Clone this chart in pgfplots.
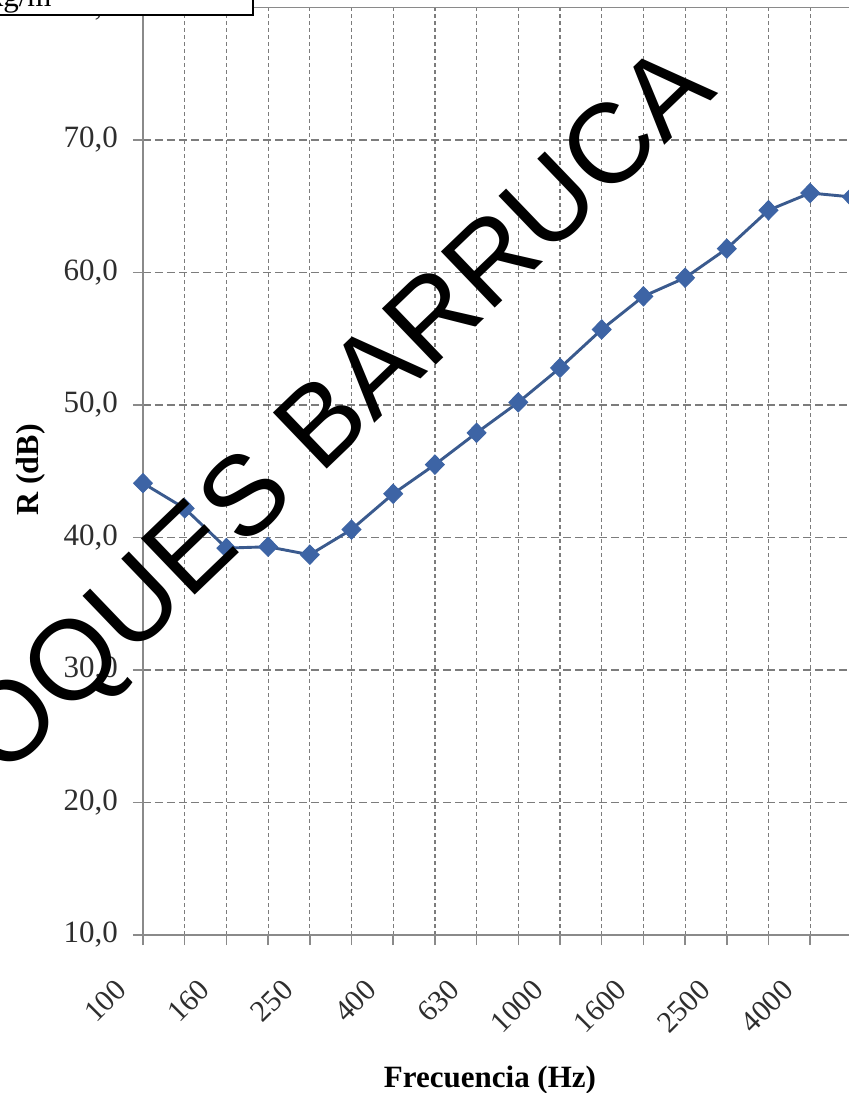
\documentclass[border=0pt]{standalone}
\usepackage{pgfplots}
\pgfplotsset{compat=1.18}
\usepackage{fontspec}
\setmainfont{Liberation Serif}
\newfontfamily\wmfont{Liberation Sans}
\definecolor{serie}{HTML}{3D64A5}
\definecolor{serieline}{HTML}{3A5A8E}
\definecolor{gridc}{HTML}{7C7C7C}
\definecolor{axisc}{HTML}{8A8A8A}
\definecolor{ticklab}{HTML}{2E2E2E}

\begin{document}
\begin{tikzpicture}
\useasboundingbox (0,0) rectangle (424.5pt,546.5pt);
\clip (0,0) rectangle (424.5pt,546.5pt);
\fill[white] (0,0) rectangle (424.5pt,546.5pt);
\begin{axis}[
  at={(71.5pt,79pt)}, anchor=south west,
  scale only axis, width=375.3pt, height=463.75pt,
  xmin=0, xmax=18, ymin=10, ymax=80,
  xtick={0,...,17},
  xticklabels={100,{},160,{},250,{},400,{},630,{},1000,{},1600,{},2500,{},4000,{}},
  ytick={10,20,...,80},
  yticklabels={{10,0},{20,0},{30,0},{40,0},{50,0},{60,0},{70,0},{80,0}},
  xmajorgrids, ymajorgrids,
  x grid style={gridc, dash pattern=on 2pt off 1.5pt, line width=0.6pt},
  y grid style={gridc, dash pattern=on 4pt off 2pt, line width=0.6pt},
  axis line style={axisc, line width=0.75pt},
  tick style={axisc, line width=0.75pt},
  tick pos=left, tick align=outside, major tick length=5pt,
  yticklabel style={font=\fontsize{15.5}{18}\selectfont, text=ticklab, xshift=-4pt},
  xticklabel style={font=\fontsize{15}{17}\selectfont, text=ticklab, rotate=45, anchor=east, xshift=-18.4pt, yshift=-6.4pt},
  xlabel={Frecuencia (Hz)},
  ylabel={R (dB)},
  xlabel style={at={(axis description cs:0.4623,-0.1563)}, anchor=center, font=\bfseries\fontsize{15.5}{18}\selectfont},
  ylabel style={at={(axis description cs:-0.1490,0.5013)}, anchor=center, font=\bfseries\fontsize{16}{19}\selectfont},
  clip=false,
]
\addplot[serieline, line width=1.45pt, mark=diamond*, mark size=4.8pt,
  mark options={fill=serie, draw=serie, line width=0.5pt, xscale=1.3}] table {
x y
0 44.1
1 42.2
2 39.2
3 39.3
4 38.7
5 40.6
6 43.3
7 45.5
8 47.9
9 50.2
10 52.8
11 55.7
12 58.2
13 59.6
14 61.8
15 64.7
16 66.0
17 65.7
};
\end{axis}
\node[rotate=43.8, inner sep=0, font=\wmfont\fontsize{56.5}{60}\selectfont] at (145.7pt,314.75pt) {BLOQUES BARRUCA};
\draw[black, line width=0.75pt, fill=white] (-2pt,539pt) rectangle (126.5pt,550pt);
\node[anchor=base east, inner sep=0, font=\fontsize{15.5}{18}\selectfont] at (26pt,543.2pt) {kg/m};
\end{tikzpicture}
\end{document}
